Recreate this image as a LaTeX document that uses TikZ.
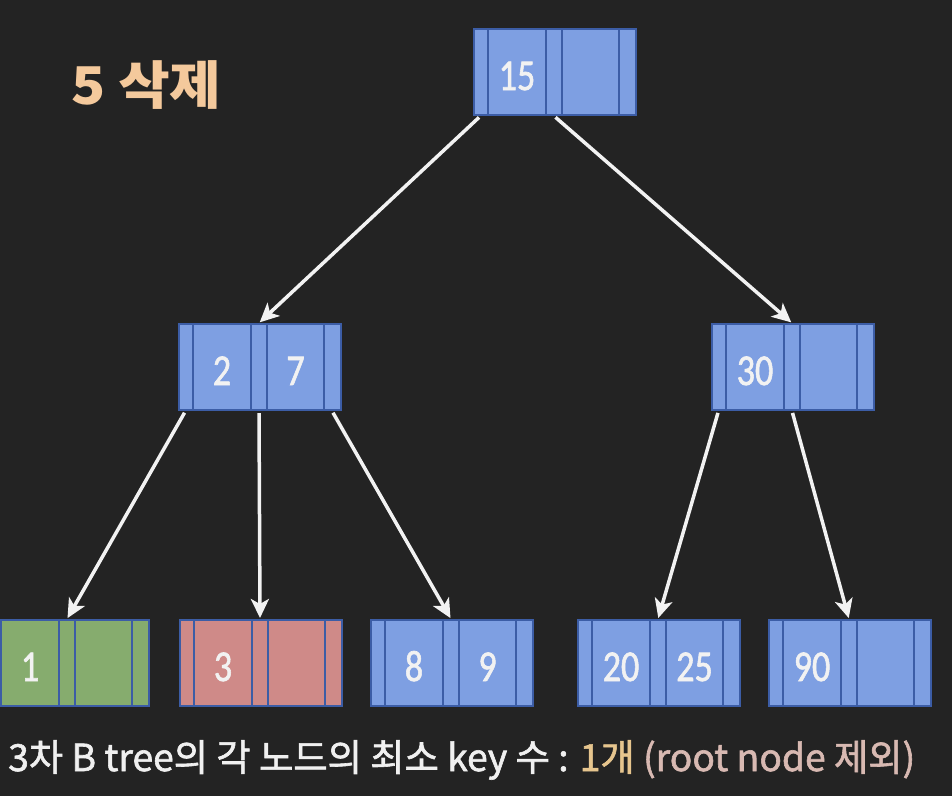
\documentclass[tikz,border=0pt]{standalone}
\usepackage{fontspec}
\usetikzlibrary{arrows.meta}
\newfontfamily\kofont{Noto Sans CJK KR}
\newfontfamily\komed[FakeBold=1.6]{Noto Sans CJK KR}
\newfontfamily\numfont[FakeBold=1.5]{Carlito}
\definecolor{bgc}{HTML}{232323}
\definecolor{bluef}{HTML}{7E9FE2}
\definecolor{greenf}{HTML}{86AC6E}
\definecolor{redf}{HTML}{CF8A88}
\definecolor{edgec}{HTML}{3C5DA6}
\definecolor{titlec}{HTML}{F4C99C}
\definecolor{onec}{HTML}{E6C58E}
\definecolor{rootc}{HTML}{D8B9B2}
\tikzset{
  bbox/.style={draw=edgec, line width=2pt, inner sep=0pt, minimum width=162pt, minimum height=86pt, anchor=north west},
  strip/.style={draw=edgec, line width=2.4pt},
  keytxt/.style={text=white!95!black, font=\numfont\fontsize{44}{44}\selectfont, anchor=base, inner sep=0pt},
  link/.style={draw=white!95!black, line width=3.5pt, -{Stealth[length=19pt,width=18pt,inset=5pt]}, shorten <=2pt, shorten >=1pt},
}
\newcommand\bnode[6]{%
  \node[bbox, fill=#6] (#1) at (#2,#3) {};
  \foreach \s in {15,73,89,146}{\draw[strip] ([xshift=\s pt]#1.north west) -- ([xshift=\s pt]#1.south west);}
  \node[keytxt] (#1-k1) at ([xshift=44pt,yshift=-62pt]#1.north west) {\scalebox{0.82}[1]{#4}};
  \node[keytxt] (#1-k2) at ([xshift=117.5pt,yshift=-62pt]#1.north west) {\scalebox{0.82}[1]{#5}};
  \coordinate (#1-top) at ([xshift=81pt]#1.north west);
  \coordinate (#1-p0) at ([xshift=7.5pt]#1.south west);
  \coordinate (#1-p1) at ([xshift=81pt]#1.south west);
  \coordinate (#1-p2) at ([xshift=154pt]#1.south west);
}
\begin{document}
\begin{tikzpicture}[x=1pt,y=-1pt]
\fill[bgc] (0,0) rectangle (952,796);
\useasboundingbox (0,0) rectangle (952,796);
\clip (0,0) rectangle (952,796);
\node[anchor=base west, inner sep=0pt, text=titlec, font=\kofont\bfseries\fontsize{52}{52}\selectfont] (title) at (71,104) {\scalebox{1.08}[1]{5 삭제}};
\bnode{root}{473}{28}{15}{}{bluef}
\bnode{a}{178}{323}{2}{7}{bluef}
\bnode{b}{711}{323}{30}{}{bluef}
\bnode{l1}{-14}{619}{1}{}{greenf}
\bnode{l2}{179}{619}{3}{}{redf}
\bnode{l3}{370}{619}{8}{9}{bluef}
\bnode{l4}{577}{619}{20}{25}{bluef}
\bnode{l5}{768}{619}{90}{}{bluef}
\draw[link] (root-p0) -- (a-top);
\draw[link] (root-p1) -- (b-top);
\draw[link] (a-p0) -- (l1-top);
\draw[link] (a-p1) -- (l2-top);
\draw[link] (a-p2) -- (l3-top);
\draw[link] (b-p0) -- (l4-top);
\draw[link] (b-p1) -- (l5-top);
\node[anchor=base west, inner sep=0pt, text=white!94!black, font=\komed\fontsize{38}{38}\selectfont] (note) at (8,771) {\resizebox{907pt}{!}{3차 B tree의 각 노드의 최소 key 수 : \textcolor{onec}{1개} \textcolor{rootc}{(root node 제외)}}};
\end{tikzpicture}
\end{document}
